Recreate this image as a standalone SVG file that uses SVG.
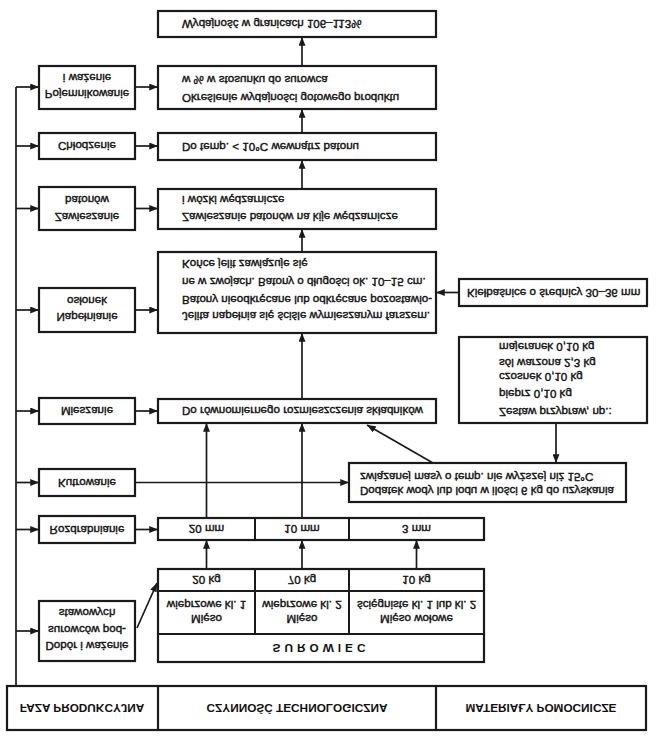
<svg xmlns="http://www.w3.org/2000/svg" width="658" height="741" viewBox="0 0 658 741">
<style>
.b{fill:#fff;stroke:#1a1a1a;stroke-width:2.2}
.l{fill:none;stroke:#1a1a1a;stroke-width:1.7}
.c{stroke:#1a1a1a;stroke-width:1.7;fill:none}
text{font-family:"Liberation Sans",Arial,sans-serif;font-size:11.6px;fill:#111;stroke:#111;stroke-width:0.4}
.m{text-anchor:middle}
.h{font-weight:bold;font-size:11.8px;stroke-width:0}
</style>
<defs>
<marker id="a" viewBox="0 0 10 8" refX="10" refY="4" markerWidth="9" markerHeight="7" markerUnits="userSpaceOnUse" orient="auto"><path d="M0,0 L10,4 L0,8 Z" fill="#1a1a1a"/></marker>
</defs>
<rect width="658" height="741" fill="#fff"/>
<g transform="matrix(1 0 0 -1 0 741)">
<g id="header">
<rect class="b" x="7" y="11" width="639" height="44"/>
<line class="l" x1="158" y1="11" x2="158" y2="55" style="stroke-width:2.2"/>
<line class="l" x1="436" y1="11" x2="436" y2="55" style="stroke-width:2.2"/>
<text class="m h" x="82" y="37">FAZA PRODUKCYJNA</text>
<text class="m h" x="297" y="37">CZYNNOŚĆ TECHNOLOGICZNA</text>
<text class="m h" x="541" y="37">MATERIAŁY POMOCNICZE</text>
</g>
<g id="connectors">
<line class="c" x1="16" y1="55" x2="16" y2="654"/>
<line class="c" x1="16" y1="654" x2="39" y2="654" marker-end="url(#a)"/>
<line class="c" x1="16" y1="595" x2="39" y2="595" marker-end="url(#a)"/>
<line class="c" x1="16" y1="532.5" x2="39" y2="532.5" marker-end="url(#a)"/>
<line class="c" x1="16" y1="431" x2="39" y2="431" marker-end="url(#a)"/>
<line class="c" x1="16" y1="330" x2="39" y2="330" marker-end="url(#a)"/>
<line class="c" x1="16" y1="258.5" x2="39" y2="258.5" marker-end="url(#a)"/>
<line class="c" x1="16" y1="211.5" x2="39" y2="211.5" marker-end="url(#a)"/>
<line class="c" x1="16" y1="110" x2="39" y2="110" marker-end="url(#a)"/>
<line class="c" x1="135" y1="654" x2="158" y2="654" marker-end="url(#a)"/>
<line class="c" x1="135" y1="595" x2="158" y2="595" marker-end="url(#a)"/>
<line class="c" x1="135" y1="532.5" x2="158" y2="532.5" marker-end="url(#a)"/>
<line class="c" x1="135" y1="431" x2="158" y2="431" marker-end="url(#a)"/>
<line class="c" x1="135" y1="330" x2="158" y2="330" marker-end="url(#a)"/>
<line class="c" x1="135" y1="258.5" x2="349" y2="258.5" marker-end="url(#a)"/>
<line class="c" x1="135" y1="211.5" x2="158" y2="211.5" marker-end="url(#a)"/>
<line class="c" x1="137" y1="113" x2="157" y2="158" marker-end="url(#a)"/>
<line class="c" x1="206.5" y1="172" x2="206.5" y2="201" marker-end="url(#a)"/>
<line class="c" x1="302" y1="172" x2="302" y2="201" marker-end="url(#a)"/>
<line class="c" x1="416.5" y1="172" x2="416.5" y2="201" marker-end="url(#a)"/>
<line class="c" x1="206.5" y1="223" x2="206.5" y2="318" marker-end="url(#a)"/>
<line class="c" x1="302" y1="223" x2="302" y2="318" marker-end="url(#a)"/>
<line class="c" x1="433" y1="278" x2="367" y2="316" marker-end="url(#a)"/>
<line class="c" x1="556" y1="318" x2="556" y2="278" marker-end="url(#a)"/>
<line class="c" x1="302" y1="342" x2="302" y2="408" marker-end="url(#a)"/>
<line class="c" x1="459" y1="448.5" x2="436" y2="448.5" marker-end="url(#a)"/>
<line class="c" x1="302" y1="489" x2="302" y2="512" marker-end="url(#a)"/>
<line class="c" x1="302" y1="552" x2="302" y2="581" marker-end="url(#a)"/>
<line class="c" x1="302" y1="608" x2="302" y2="632" marker-end="url(#a)"/>
<line class="c" x1="302" y1="675" x2="302" y2="704" marker-end="url(#a)"/>
</g>
<g id="f-pojemnikowanie"><rect class="b" x="39" y="632" width="96" height="43"/>
<text class="m" x="87" y="651">Pojemnikowanie</text><text class="m" x="87" y="667">i ważenie</text></g>
<g id="f-chlodzenie"><rect class="b" x="39" y="582" width="96" height="26"/>
<text class="m" x="87" y="599">Chłodzenie</text></g>
<g id="f-zawieszanie"><rect class="b" x="39" y="511" width="96" height="43"/>
<text class="m" x="87" y="528">Zawieszanie</text><text class="m" x="87" y="545">batonów</text></g>
<g id="f-napelnianie"><rect class="b" x="39" y="409" width="96" height="44"/>
<text class="m" x="87" y="428">Napełnianie</text><text class="m" x="87" y="444">osłonek</text></g>
<g id="f-mieszanie"><rect class="b" x="39" y="317" width="96" height="26"/>
<text class="m" x="87" y="334">Mieszanie</text></g>
<g id="f-kutrowanie"><rect class="b" x="39" y="245" width="96" height="27"/>
<text class="m" x="87" y="262.5">Kutrowanie</text></g>
<g id="f-rozdrabnianie"><rect class="b" x="39" y="198" width="96" height="27"/>
<text class="m" x="87" y="215.5">Rozdrabnianie</text></g>
<g id="f-dobor"><rect class="b" x="39" y="80" width="96" height="60"/>
<text class="m" x="87" y="99">Dobór i ważenie</text><text class="m" x="87" y="115">surowców pod-</text><text class="m" x="87" y="132">stawowych</text></g>
<g id="c-wydajnosc"><rect class="b" x="158" y="704" width="278" height="26"/>
<text x="182" y="721">Wydajność w granicach 106–113%</text></g>
<g id="c-okreslenie"><rect class="b" x="158" y="632" width="278" height="43"/>
<text x="182" y="647">Określenie wydajności gotowego produktu</text><text x="182" y="665">w % w stosunku do surowca</text></g>
<g id="c-temp"><rect class="b" x="158" y="581" width="278" height="27"/>
<text x="182" y="598.5">Do temp. &lt; 10°C wewnątrz batonu</text></g>
<g id="c-zawieszanie"><rect class="b" x="158" y="512" width="278" height="40"/>
<text x="182" y="528">Zawieszanie batonów na kije wędzarnicze</text><text x="182" y="545">i wózki wędzarnicze</text></g>
<g id="c-jelita"><rect class="b" x="158" y="408" width="278" height="81"/>
<text x="182" y="429">Jelita napełnia się ściśle wymieszanym farszem.</text>
<text x="182" y="445">Batony nieodkręcane lub odkręcane pozostawio-</text>
<text x="182" y="463">ne w zwojach. Batony o długości ok. 10–15 cm.</text>
<text x="182" y="481">Końce jelit zawiązuje się</text></g>
<g id="c-mieszanie"><rect class="b" x="158" y="318" width="278" height="24"/>
<text x="182" y="334">Do równomiernego rozmieszczenia składników</text></g>
<g id="c-rozdrabnianie"><rect class="b" x="158" y="201" width="326" height="22"/>
<line class="l" x1="255" y1="201" x2="255" y2="223" style="stroke-width:2"/>
<line class="l" x1="349" y1="201" x2="349" y2="223" style="stroke-width:2"/>
<text class="m" x="206.5" y="216">20 mm</text><text class="m" x="302" y="216">10 mm</text><text class="m" x="416.5" y="216">3 mm</text></g>
<g id="c-surowiec"><rect class="b" x="158" y="79" width="326" height="93"/>
<line class="l" x1="158" y1="150" x2="484" y2="150" style="stroke-width:2"/>
<line class="l" x1="158" y1="107" x2="484" y2="107" style="stroke-width:2"/>
<line class="l" x1="255" y1="107" x2="255" y2="172" style="stroke-width:2"/>
<line class="l" x1="349" y1="107" x2="349" y2="172" style="stroke-width:2"/>
<text class="m" x="206.5" y="165">20 kg</text><text class="m" x="302" y="165">70 kg</text><text class="m" x="416.5" y="165">10 kg</text>
<text class="m" x="206.5" y="126">Mięso</text><text class="m" x="206.5" y="140">wieprzowe kl. 1</text>
<text class="m" x="302" y="126">Mięso</text><text class="m" x="302" y="140">wieprzowe kl. 2</text>
<text class="m" x="416.5" y="126">Mięso wołowe</text><text class="m" x="416.5" y="140">ścięgniste kl. 1 lub kl. 2</text>
<text class="m h" x="321" y="97" style="letter-spacing:4px">SUROWIEC</text></g>
<g id="m-kielbasnice"><rect class="b" x="459" y="435" width="188" height="27"/>
<text x="467" y="452.5">Kiełbaśnice o średnicy 30–36 mm</text></g>
<g id="m-zestaw"><rect class="b" x="459" y="318" width="188" height="86"/>
<text x="499" y="333">Zestaw przypraw, np.:</text>
<text x="499" y="351">pieprz 0,10 kg</text>
<text x="499" y="368">czosnek 0,10 kg</text>
<text x="499" y="382">sól warzona 2,3 kg</text>
<text x="499" y="398">majeranek 0,10 kg</text></g>
<g id="m-dodatek"><rect class="b" x="349" y="239" width="277" height="39"/>
<text x="360" y="254">Dodatek wody lub lodu w ilości 6 kg do uzyskania</text>
<text x="360" y="268">związanej masy o temp. nie wyższej niż 15°C</text></g>
</g>
</svg>
